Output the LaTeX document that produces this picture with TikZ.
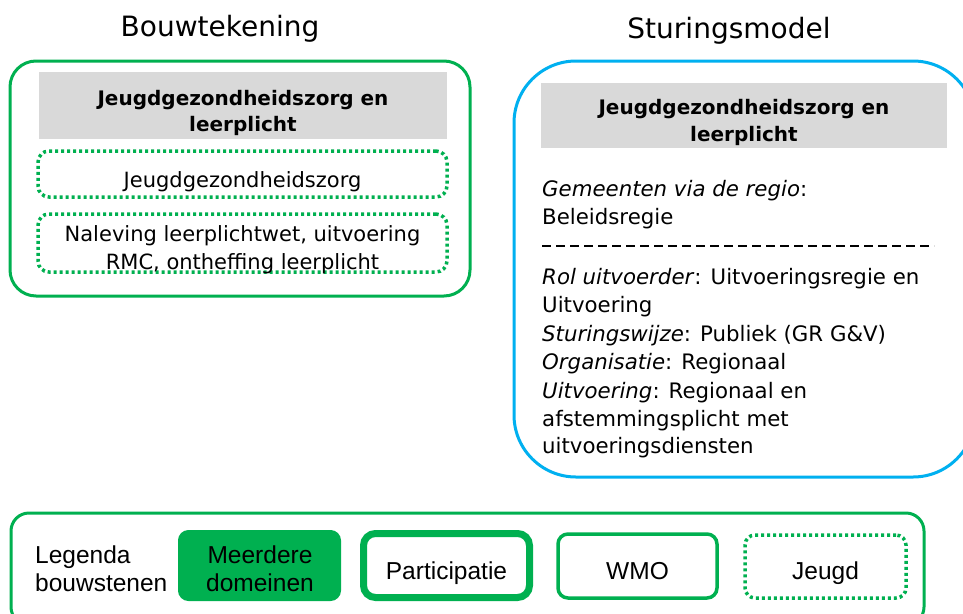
\documentclass[tikz,border=0pt]{standalone}
\usepackage{fontspec}
\setmainfont{DejaVu Sans}
\newfontfamily\legfont{Liberation Sans}
\definecolor{grn}{RGB}{0,176,80}
\definecolor{blu}{RGB}{0,176,240}
\definecolor{hdrgray}{RGB}{217,217,217}
\begin{document}
\begin{tikzpicture}[x=1pt,y=-1pt,
  titletext/.style={font=\fontsize{28}{34}\selectfont, anchor=base, inner sep=0pt},
  hdrbox/.style={fill=hdrgray, draw=none, minimum width=#1, inner sep=0pt},
  hdrtext/.style={font=\bfseries\fontsize{20}{26}\selectfont, anchor=base, inner sep=0pt},
  bodytext/.style={font=\fontsize{21}{28}\selectfont, anchor=base, inner sep=0pt},
  rtext/.style={font=\fontsize{21.3}{28}\selectfont, anchor=base west, inner sep=0pt},
  legtext/.style={font=\legfont\fontsize{24.5}{28}\selectfont, anchor=base, inner sep=0pt},
  greenbox/.style={draw=grn, line width=3pt, rounded corners=26pt, inner sep=0pt},
  bluebox/.style={draw=blu, line width=3pt, rounded corners=62pt, inner sep=0pt},
  dotbox/.style={draw=grn, line width=3.5pt, dash pattern=on 3pt off 3pt, rounded corners=11pt, inner sep=0pt},
  legbox/.style={draw=grn, line width=3pt, rounded corners=18pt, inner sep=0pt},
  keyfill/.style={fill=grn, draw=grn, line width=1pt, rounded corners=10pt, inner sep=0pt},
  keythick/.style={draw=grn, line width=7pt, rounded corners=12pt, inner sep=0pt},
  keyplain/.style={draw=grn, line width=3.5pt, rounded corners=10pt, inner sep=0pt},
  keydot/.style={draw=grn, line width=3.5pt, dash pattern=on 3pt off 3pt, rounded corners=10pt, inner sep=0pt}
]
\useasboundingbox (0,0) rectangle (963,613);
\fill[white] (0,0) rectangle (963,613);

% Titles
\node[titletext] (t1) at (220,36) {Bouwtekening};
\node[titletext] (t2) at (729,38) {Sturingsmodel};

% Left: Bouwtekening
\node[greenbox, minimum width=460pt, minimum height=235pt] (lbox) at (240,178.5) {};
\node[hdrbox=408pt, minimum height=67pt] (lhdr) at (243,105.5) {};
\node[hdrtext] (lh1) at (243,105) {Jeugdgezondheidszorg en};
\node[hdrtext] (lh2) at (243,131) {leerplicht};
\node[dotbox, minimum width=409pt, minimum height=46pt] (d1) at (242.5,174) {};
\node[bodytext] (d1t) at (242.5,187) {Jeugdgezondheidszorg};
\node[dotbox, minimum width=409pt, minimum height=58pt] (d2) at (242.5,243) {};
\node[bodytext] (d2t1) at (242.5,241) {Naleving leerplichtwet, uitvoering};
\node[bodytext] (d2t2) at (242.5,269) {RMC, ontheffing leerplicht};

% Right: Sturingsmodel
\node[bluebox, minimum width=461pt, minimum height=416pt] (rbox) at (744.5,269) {};
\node[hdrbox=406pt, minimum height=65pt] (rhdr) at (744,115.5) {};
\node[hdrtext] (rh1) at (744,114) {Jeugdgezondheidszorg en};
\node[hdrtext] (rh2) at (744,141) {leerplicht};
\node[rtext] (r1) at (542,196) {\textit{Gemeenten via de regio}:};
\node[rtext] (r2) at (542,224) {Beleidsregie};
\coordinate (dashL) at (542,246);
\coordinate (dashR) at (934,246);
\draw[line width=1.1pt, dash pattern=on 9pt off 5pt] (dashL) -- (dashR);
\node[rtext] (r3) at (542,284) {\textit{Rol uitvoerder}: Uitvoeringsregie en};
\node[rtext] (r4) at (542,312) {Uitvoering};
\node[rtext] (r5) at (542,341) {\textit{Sturingswijze}: Publiek (GR G\&V)};
\node[rtext] (r6) at (542,369) {\textit{Organisatie}: Regionaal};
\node[rtext] (r7) at (542,398) {\textit{Uitvoering}: Regionaal en};
\node[rtext] (r8) at (542,426) {afstemmingsplicht met};
\node[rtext] (r9) at (542,453) {uitvoeringsdiensten};

% Legend
\node[legbox, minimum width=913pt, minimum height=112pt] (leg) at (467.5,569) {};
\node[legtext, anchor=base west] (lg1) at (35,563) {Legenda};
\node[legtext, anchor=base west] (lg2) at (35,591) {bouwstenen};
\node[keyfill, minimum width=162pt, minimum height=70pt] (k1) at (259.5,565.5) {};
\node[legtext] (k1a) at (260,563) {Meerdere};
\node[legtext] (k1b) at (260,591) {domeinen};
\node[keythick, minimum width=166pt, minimum height=64pt] (k2) at (446.5,565.5) {};
\node[legtext] (k2t) at (446.5,579) {Participatie};
\node[keyplain, minimum width=159pt, minimum height=64pt] (k3) at (637.5,566) {};
\node[legtext] (k3t) at (637.5,579) {WMO};
\node[keydot, minimum width=161pt, minimum height=63pt] (k4) at (825.5,566.5) {};
\node[legtext] (k4t) at (825.5,579) {Jeugd};
\end{tikzpicture}
\end{document}
